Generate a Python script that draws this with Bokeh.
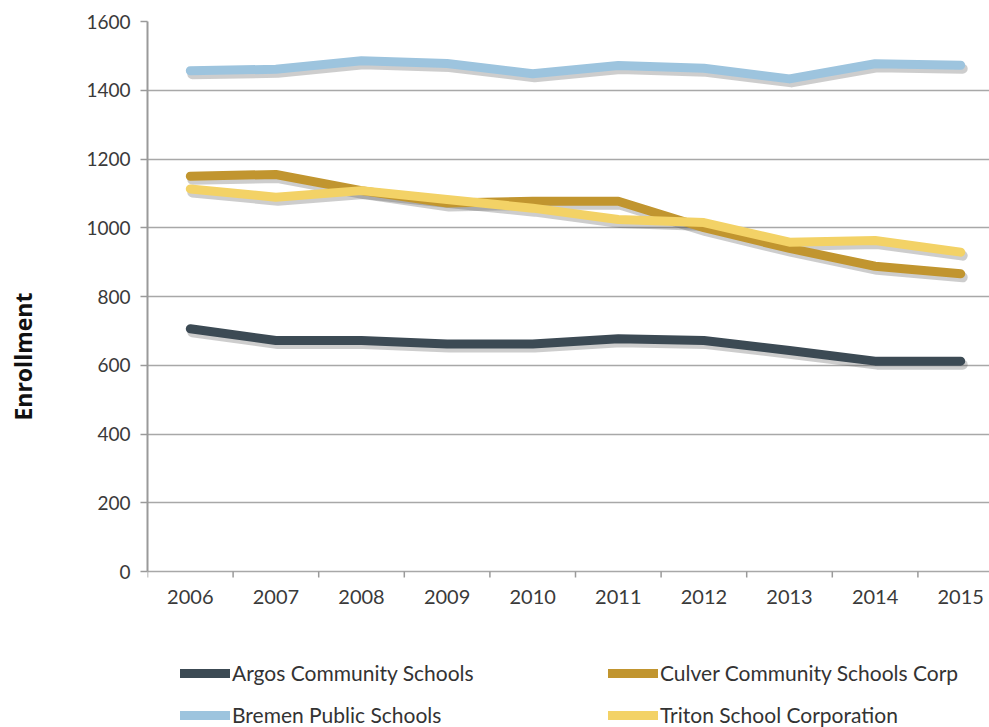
import math
from bokeh.plotting import figure
from bokeh.models import Range1d, FixedTicker, Legend, LegendItem
from bokeh.embed import file_html
from bokeh.resources import INLINE

years = [2006, 2007, 2008, 2009, 2010, 2011, 2012, 2013, 2014, 2015]
year_labels = [str(y) for y in years]
argos = [706, 672, 672, 662, 662, 677, 672, 643, 612, 612]
culver = [1150, 1155, 1108, 1072, 1077, 1077, 1000, 940, 888, 866]
bremen = [1457, 1461, 1486, 1478, 1448, 1472, 1464, 1433, 1477, 1473]
triton = [1113, 1089, 1108, 1082, 1057, 1024, 1015, 958, 963, 929]
y_ticks = [0, 200, 400, 600, 800, 1000, 1200, 1400, 1600]
y_title = "Enrollment"

series = [
    ("Argos Community Schools", argos, "#3c4a54"),
    ("Culver Community Schools Corp", culver, "#c1952f"),
    ("Bremen Public Schools", bremen, "#9dc4de"),
    ("Triton School Corporation", triton, "#f3d266"),
]

W, H = 989, 727
LEFT, TOP = 147, 21
PLOT_H = 550            # pixels from 0 to 1600
FRAME_W, FRAME_H = W - LEFT, H - TOP
STEP = 85.6             # pixels per category
YMAX = y_ticks[-1]
ymin = -(FRAME_H - PLOT_H) * YMAX / PLOT_H
x0 = years[0] - 0.5
x1 = x0 + FRAME_W / STEP

p = figure(width=W, height=H, output_backend="svg", toolbar_location=None,
           x_range=Range1d(x0, x1), y_range=Range1d(ymin, YMAX),
           frame_width=FRAME_W, frame_height=FRAME_H, x_axis_location=None,
           min_border_left=LEFT, min_border_right=0, min_border_top=TOP,
           min_border_bottom=0, background_fill_color="white",
           border_fill_color="white", outline_line_color=None)

# shadow ranges (shifted by a few pixels)
dy = 3.5 * YMAX / PLOT_H
dx = 2.0 / STEP
p.extra_y_ranges = {"sh": Range1d(ymin + dy, YMAX + dy)}
p.extra_x_ranges = {"sh": Range1d(x0 - dx, x1 - dx)}

FONT = "Lato"
GRAY = "#9a9a9a"

p.yaxis.ticker = FixedTicker(ticks=y_ticks)
p.yaxis.bounds = (0, YMAX)
p.yaxis.minor_tick_out = 0
p.yaxis.minor_tick_in = 0
p.yaxis.major_tick_out = 7
p.yaxis.major_tick_in = 0
p.yaxis.major_tick_line_color = GRAY
p.yaxis.major_tick_line_width = 1.5
p.yaxis.axis_line_color = GRAY
p.yaxis.axis_line_width = 2
p.yaxis.major_label_text_font = FONT
p.yaxis.major_label_text_font_size = "19px"
p.yaxis.major_label_text_color = "#3a3a3a"
p.yaxis.major_label_standoff = 10
# leading no-break spaces nudge the centred title up to where the reference has it
p.yaxis.axis_label = "\u00a0" * 6 + y_title
p.yaxis.axis_label_text_font = "Open Sans"
p.yaxis.axis_label_text_font_style = "bold"
p.yaxis.axis_label_text_font_size = "23px"
p.yaxis.axis_label_text_color = "#111111"
p.yaxis.axis_label_standoff = 44

p.xgrid.grid_line_color = None
p.ygrid.grid_line_color = "#a8a8a8"
p.ygrid.grid_line_width = 1.5
p.ygrid.ticker = FixedTicker(ticks=y_ticks)

# category axis drawn along the zero line
p.ray(x=[y - 0.5 for y in years], y=[0] * len(years), length=6, length_units="screen",
      angle=-math.pi / 2, line_color=GRAY, line_width=1.5)
p.text(x=years, y=[0] * len(years), text=year_labels, y_offset=25,
       text_align="center", text_baseline="middle", text_font_size="20px",
       text_color="#3a3a3a", text_font={"value": FONT})

renderers = {}
for name, vals, col in series:
    p.line(years, vals, line_color="#4a4a4a", line_alpha=0.28, line_width=10,
           line_cap="round", line_join="round", x_range_name="sh", y_range_name="sh")

for name, vals, col in series:
    r = p.line(years, vals, line_color=col, line_width=9, line_cap="round",
               line_join="round")
    renderers[name] = r


def make_legend(names, vx):
    return Legend(items=[LegendItem(label=n, renderers=[renderers[n]]) for n in names],
                  location=(vx, 0), orientation="vertical",
                  glyph_width=50, glyph_height=20, label_height=20,
                  label_standoff=2, spacing=17, padding=0, margin=0,
                  border_line_color=None, background_fill_alpha=0,
                  label_text_font=FONT, label_text_font_size="21px",
                  label_text_color="#333333")


p.add_layout(make_legend([series[0][0], series[2][0]], 33), "center")
p.add_layout(make_legend([series[1][0], series[3][0]], 33 + 428), "center")

open("out.html", "w").write(file_html(p, INLINE))
